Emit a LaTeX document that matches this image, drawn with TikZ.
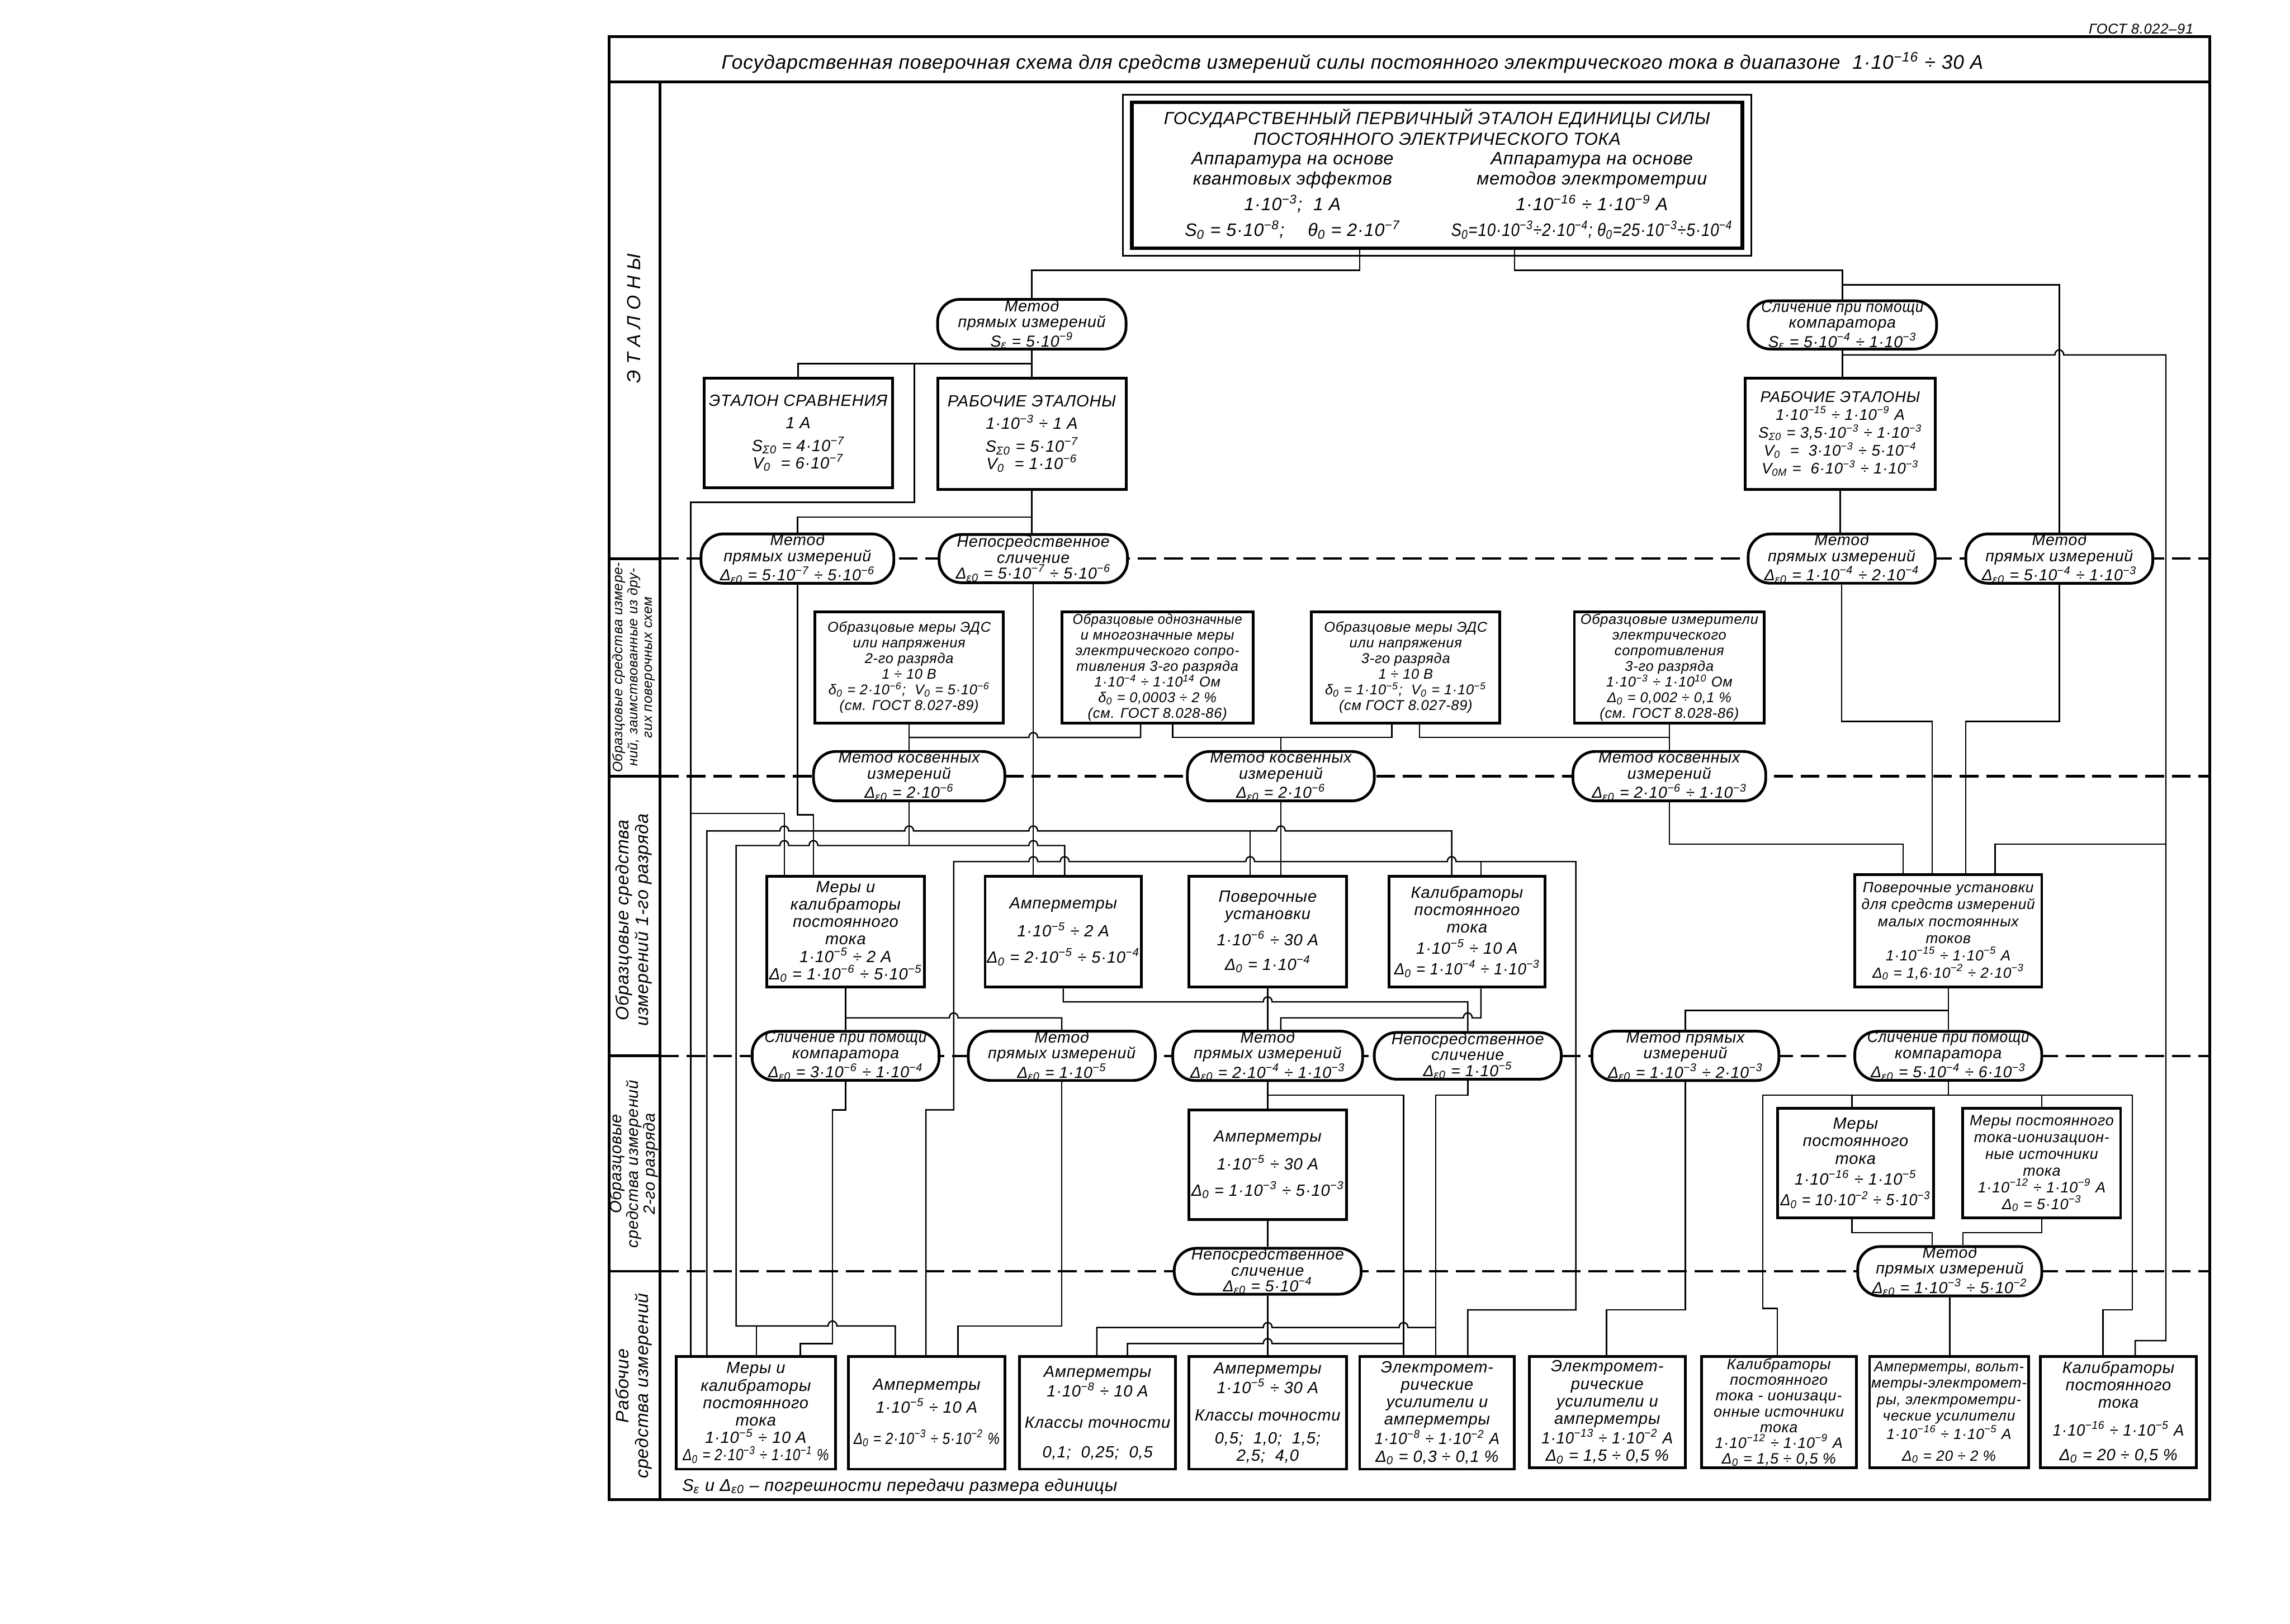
\documentclass[tikz,border=0pt]{standalone}
\usepackage{fontspec}
\setmainfont{Liberation Sans}[LetterSpace=3]
\usetikzlibrary{calc}
\newcommand\tn[1]{·10\textsuperscript{#1}}
\newcommand\sbs[1]{\textsubscript{#1}}
\newcommand\nar[2][0.9]{{\addfontfeature{FakeStretch=#1}#2}}
\newcommand\hop[2]{-- ({#1-3},#2) .. controls ({#1-3},{#2-4.5}) and ({#1+3},{#2-4.5}) .. ({#1+3},#2)}
\newcommand\hopl[2]{-- ({#1+3},#2) .. controls ({#1+3},{#2-4.5}) and ({#1-3},{#2-4.5}) .. ({#1-3},#2)}
\newcommand\fsz[2]{\itshape\fontsize{#1}{#2}\selectfont}
\newcommand\mknode[7][boxst]{\node[#1, minimum width={(#5-#3)*0.03cm}, minimum height={(#6-#4)*0.03cm}] (#2) at ({(#3+#5)/2},{(#4+#6)/2}) {#7};}
\tikzset{
 boxst/.style={draw, line width=1.6pt, fill=white, inner sep=1pt, align=center, font=\fsz{9.5}{10.2}},
 obst/.style={boxst, font=\fsz{8.3}{9.1}},
 ovalst/.style={draw, line width=1.6pt, fill=white, rounded corners=13pt, inner sep=0pt, align=center, font=\fsz{9.3}{9.3}},
 topst/.style={draw, line width=2pt, fill=white},
 conn/.style={line width=0.8pt},
 zone/.style={line width=1.4pt, dash pattern=on 11pt off 4.5pt},
 frm/.style={line width=1.6pt},
 lbl/.style={font=\fsz{10}{11}, align=center, inner sep=0pt, rotate=90},
}
\begin{document}
\begin{tikzpicture}[x=0.03cm, y=-0.03cm]
\useasboundingbox (0,0) rectangle (1568,1112);
% zone lines
\draw[zone] (452,382.5) -- (1513,382.5);
\draw[zone] (452,531.5) -- (1513,531.5);
\draw[zone] (452,723) -- (1513,723);
\draw[zone] (452,870.5) -- (1513,870.5);
% frame
\draw[frm] (417,25) rectangle (1513,1027);
\draw[frm] (417,56) -- (1513,56);
\draw[frm] (452,56) -- (452,1027);
\foreach \yy in {382.5,531.5,723,870.5} \draw[frm] (417,\yy) -- (452,\yy);
\node[font=\fsz{8.3}{9}] (GOST) at (1466,20) {ГОСТ 8.022–91};
\node[font=\fsz{11.5}{12}] (TITLE) at (926,43) {Государственная поверочная схема для средств измерений силы постоянного электрического тока в диапазоне \ 1\tn{−16} ÷ 30 А};
% zone labels
\node[lbl, font=\fsz{11}{12}] (Z1) at (434,218) {Э Т А Л О Н Ы};
\node[lbl, font=\fsz{8}{8.6}] (Z2) at (434,457) {Образцовые средства измере-\\ний, заимствованные из дру-\\гих поверочных схем};
\node[lbl, font=\fsz{10.5}{11.5}] (Z3) at (434,630) {Образцовые средства\\измерений 1-го разряда};
\node[lbl, font=\fsz{9.5}{9.8}] (Z4) at (434,797) {Образцовые\\средства измерений\\2-го разряда};
\node[lbl, font=\fsz{10.5}{11.5}] (Z5) at (434,949) {Рабочие\\средства измерений};
\node[anchor=west, font=\fsz{10}{11}] (FN) at (463,1018) {S\sbs{ε} и Δ\sbs{ε0} – погрешности передачи размера единицы};
% top box
\mknode[topst]{TOP}{775}{70}{1193}{170}{}
\draw[line width=1.2pt] ($(TOP.north west)+(-5,-4)$) rectangle ($(TOP.south east)+(5,4)$);
\node[font=\fsz{10.2}{12}, align=center] (TT) at (984,87) {ГОСУДАРСТВЕННЫЙ ПЕРВИЧНЫЙ ЭТАЛОН ЕДИНИЦЫ СИЛЫ\\ПОСТОЯННОГО ЭЛЕКТРИЧЕСКОГО ТОКА};
\node[font=\fsz{10.5}{12}, align=center] (TL) at (885,134) {Аппаратура на основе\\квантовых эффектов\\[3pt]1\tn{−3}; \ 1 А\\[3pt]S\sbs{0} = 5\tn{−8}; \quad θ\sbs{0} = 2\tn{−7}};
\node[font=\fsz{10.5}{12}, align=center] (TR) at (1090,134) {Аппаратура на основе\\методов электрометрии\\[3pt]1\tn{−16} ÷ 1\tn{−9} А\\[3pt]\nar[0.86]{S\sbs{0}=10\tn{−3}÷2\tn{−4}; θ\sbs{0}=25\tn{−3}÷5\tn{−4}}};
% etalons
\mknode[ovalst]{M1}{642}{205}{771}{239}{Метод\\прямых измерений\\S\sbs{ε} = 5\tn{−9}}
\mknode[ovalst]{S1}{1197}{206}{1326}{239}{\nar[0.92]{Сличение при помощи}\\компаратора\\S\sbs{ε} = 5\tn{−4} ÷ 1\tn{−3}}
\mknode{ES}{482}{259}{611}{334}{ЭТАЛОН СРАВНЕНИЯ\\[3pt]1 А\\[3pt]S\sbs{Σ0} = 4\tn{−7}\\V\sbs{0} \ = 6\tn{−7}}
\mknode{RE1}{642}{259}{771}{335}{РАБОЧИЕ ЭТАЛОНЫ\\[3pt]1\tn{−3} ÷ 1 А\\[3pt]S\sbs{Σ0} = 5\tn{−7}\\V\sbs{0} \ = 1\tn{−6}}
\mknode[boxst, font=\fsz{9}{10.5}]{RE2}{1195}{259}{1325}{335}{РАБОЧИЕ ЭТАЛОНЫ\\1\tn{−15} ÷ 1\tn{−9} А\\S\sbs{Σ0} = 3,5\tn{−3} ÷ 1\tn{−3}\\V\sbs{0} \ = \ 3\tn{−3} ÷ 5\tn{−4}\\V\sbs{0М} = \ 6\tn{−3} ÷ 1\tn{−3}}
\mknode[ovalst]{M2}{480}{366}{612}{399}{Метод\\прямых измерений\\Δ\sbs{ε0} = 5\tn{−7} ÷ 5\tn{−6}}
\mknode[ovalst]{N1}{643}{366}{772}{399}{Непосредственное\\сличение\\Δ\sbs{ε0} = 5\tn{−7} ÷ 5\tn{−6}}
\mknode[ovalst]{M3}{1197}{366}{1325}{399}{Метод\\прямых измерений\\Δ\sbs{ε0} = 1\tn{−4} ÷ 2\tn{−4}}
\mknode[ovalst]{M4}{1346}{366}{1474}{399}{Метод\\прямых измерений\\Δ\sbs{ε0} = 5\tn{−4} ÷ 1\tn{−3}}
% borrowed
\mknode[obst]{OB1}{558}{419}{687}{495}{Образцовые меры ЭДС\\или напряжения\\2-го разряда\\1 ÷ 10 В\\δ\sbs{0} = 2\tn{−6}; \ V\sbs{0} = 5\tn{−6}\\(см. ГОСТ 8.027-89)}
\mknode[obst]{OB2}{727}{419}{858}{495}{\nar[0.93]{Образцовые однозначные}\\и многозначные меры\\электрического сопро-\\тивления 3-го разряда\\1\tn{−4} ÷ 1\tn{14} Ом\\δ\sbs{0} = 0,0003 ÷ 2 \%\\(см. ГОСТ 8.028-86)}
\mknode[obst]{OB3}{898}{419}{1027}{495}{Образцовые меры ЭДС\\или напряжения\\3-го разряда\\1 ÷ 10 В\\δ\sbs{0} = 1\tn{−5}; \ V\sbs{0} = 1\tn{−5}\\(см ГОСТ 8.027-89)}
\mknode[obst]{OB4}{1078}{419}{1208}{495}{Образцовые измерители\\электрического\\сопротивления\\3-го разряда\\1\tn{−3} ÷ 1\tn{10} Ом\\Δ\sbs{0} = 0,002 ÷ 0,1 \%\\(см. ГОСТ 8.028-86)}
\mknode[ovalst]{MK1}{557}{515}{688}{548}{Метод косвенных\\измерений\\Δ\sbs{ε0} = 2\tn{−6}}
\mknode[ovalst]{MK2}{813}{515}{941}{548}{Метод косвенных\\измерений\\Δ\sbs{ε0} = 2\tn{−6}}
\mknode[ovalst]{MK3}{1077}{515}{1209}{548}{Метод косвенных\\измерений\\Δ\sbs{ε0} = 2\tn{−6} ÷ 1\tn{−3}}
% first rank
\mknode{MKal}{525}{600}{633}{676}{Меры и\\калибраторы\\постоянного\\тока\\1\tn{−5} ÷ 2 А\\Δ\sbs{0} = 1\tn{−6} ÷ 5\tn{−5}}
\mknode{A1}{675}{600}{781}{676}{Амперметры\\[5pt]1\tn{−5} ÷ 2 А\\[5pt]Δ\sbs{0} = 2\tn{−5} ÷ 5\tn{−4}}
\mknode{PU}{814}{600}{922}{676}{Поверочные\\установки\\[4pt]1\tn{−6} ÷ 30 А\\[4pt]Δ\sbs{0} = 1\tn{−4}}
\mknode{K1}{951}{600}{1058}{676}{Калибраторы\\постоянного\\тока\\[2pt]1\tn{−5} ÷ 10 А\\[2pt]\nar[0.95]{Δ\sbs{0} = 1\tn{−4} ÷ 1\tn{−3}}}
\mknode[boxst, font=\fsz{8.6}{10}]{P5}{1270}{599}{1398}{676}{Поверочные установки\\для средств измерений\\малых постоянных\\токов\\1\tn{−15} ÷ 1\tn{−5} А\\Δ\sbs{0} = 1,6\tn{−2} ÷ 2\tn{−3}}
\mknode[ovalst]{SK}{515}{707}{643}{739}{\nar[0.92]{Сличение при помощи}\\компаратора\\Δ\sbs{ε0} = 3\tn{−6} ÷ 1\tn{−4}}
\mknode[ovalst]{MP1}{663}{707}{791}{739}{Метод\\прямых измерений\\Δ\sbs{ε0} = 1\tn{−5}}
\mknode[ovalst]{MP2}{803}{707}{933}{739}{Метод\\прямых измерений\\Δ\sbs{ε0} = 2\tn{−4} ÷ 1\tn{−3}}
\mknode[ovalst]{NS}{941}{707}{1069}{739}{Непосредственное\\сличение\\Δ\sbs{ε0} = 1\tn{−5}}
\mknode[ovalst]{MPI}{1090}{707}{1218}{739}{Метод прямых\\измерений\\Δ\sbs{ε0} = 1\tn{−3} ÷ 2\tn{−3}}
\mknode[ovalst]{SC2}{1270}{707}{1398}{739}{\nar[0.92]{Сличение при помощи}\\компаратора\\Δ\sbs{ε0} = 5\tn{−4} ÷ 6\tn{−3}}
% second rank
\mknode{A2}{814}{760}{922}{835}{Амперметры\\[5pt]1\tn{−5} ÷ 30 А\\[5pt]Δ\sbs{0} = 1\tn{−3} ÷ 5\tn{−3}}
\mknode{MPT}{1217}{759}{1324}{834}{Меры\\постоянного\\тока\\[2pt]1\tn{−16} ÷ 1\tn{−5}\\[2pt]\nar[0.92]{Δ\sbs{0} = 10\tn{−2} ÷ 5\tn{−3}}}
\mknode[boxst, font=\fsz{8.8}{9.8}]{MPI2}{1344}{759}{1452}{834}{Меры постоянного\\тока-ионизацион-\\ные источники\\тока\\1\tn{−12} ÷ 1\tn{−9} А\\Δ\sbs{0} = 5\tn{−3}}
\mknode[ovalst]{N2}{804}{855}{932}{886}{Непосредственное\\сличение\\Δ\sbs{ε0} = 5\tn{−4}}
\mknode[ovalst]{M5}{1272}{855}{1398}{886}{Метод\\прямых измерений\\Δ\sbs{ε0} = 1\tn{−3} ÷ 5\tn{−2}}
% working
\mknode{B1}{463}{929}{572}{1006}{Меры и\\калибраторы\\постоянного\\тока\\1\tn{−5} ÷ 10 А\\\nar[0.84]{Δ\sbs{0} = 2\tn{−3} ÷ 1\tn{−1} \%}}
\mknode{B2}{581}{929}{688}{1006}{Амперметры\\[2pt]1\tn{−5} ÷ 10 А\\[8pt]\nar[0.84]{Δ\sbs{0} = 2\tn{−3} ÷ 5\tn{−2} \%}}
\mknode{B3}{698}{929}{805}{1006}{Амперметры\\1\tn{−8} ÷ 10 А\\[8pt]Классы точности\\[7pt]0,1; \ 0,25; \ 0,5}
\mknode{B4}{814}{929}{922}{1006}{Амперметры\\1\tn{−5} ÷ 30 А\\[6pt]Классы точности\\[3pt]0,5; \ 1,0; \ 1,5;\\2,5; \ 4,0}
\mknode{B5}{931}{929}{1037}{1006}{Электромет-\\рические\\усилители и\\амперметры\\\nar[0.95]{1\tn{−8} ÷ 1\tn{−2} А}\\Δ\sbs{0} = 0,3 ÷ 0,1 \%}
\mknode{B6}{1047}{929}{1154}{1005}{Электромет-\\рические\\усилители и\\амперметры\\\nar[0.95]{1\tn{−13} ÷ 1\tn{−2} А}\\Δ\sbs{0} = 1,5 ÷ 0,5 \%}
\mknode[boxst, font=\fsz{8.8}{9.2}]{B7}{1165}{929}{1271}{1005}{Калибраторы\\постоянного\\тока - ионизаци-\\онные источники\\тока\\1\tn{−12} ÷ 1\tn{−9} А\\Δ\sbs{0} = 1,5 ÷ 0,5 \%}
\mknode[boxst, font=\fsz{8.6}{9.6}]{B8}{1281}{929}{1388}{1005}{\nar[0.95]{Амперметры, вольт-}\\метры-электромет-\\ры, электрометри-\\ческие усилители\\1\tn{−16} ÷ 1\tn{−5} А\\[3pt]Δ\sbs{0} = 20 ÷ 2 \%}
\mknode{B9}{1397}{929}{1504}{1005}{Калибраторы\\постоянного\\тока\\[6pt]\nar[0.95]{1\tn{−16} ÷ 1\tn{−5} А}\\[4pt]Δ\sbs{0} = 20 ÷ 0,5 \%}
% connectors
\begin{scope}[conn]
\draw (931,0 |- TOP.south) -- (931,185) -| (M1.north);
\draw (1037,0 |- TOP.south) -- (1037,185) -| (S1.north);
\draw (S1.north |- 0,195) -| (M4.north);
\draw (S1.south) -- (S1.south |- RE2.north);
\draw (S1.south |- 0,243) \hop{1410}{243} -- (1483,243) -- (1483,918) -- (1462,918) -- (1462,0 |- B9.north);
\draw (1483,578) -- (1366,578) -- (1366,0 |- P5.north);
\draw (M1.south) -- (M1.south |- RE1.north);
\draw (M1.south |- 0,249) -| (ES.north);
\draw (M1.south |- 0,249) -- (626,249) -- (626,344) -- (473,344) -- (473,0 |- B1.north);
\draw (473,557) -- (537,557) -- (537,0 |- MKal.north);
\draw (RE1.south) -- (RE1.south |- N1.north);
\draw (RE1.south |- 0,354) -| (M2.north);
\draw (RE2.south) -- (RE2.south |- M3.north);
\draw (M3.south) |- (1323,494) -- (1323,0 |- P5.north);
\draw (M4.south) |- (1346,494) -- (1346,0 |- P5.north);
\draw (M2.south) -- (M2.south |- 0,558) -- (557,558) -- (557,0 |- MKal.north);
\draw (484,0 |- B1.north) -- (484,569) \hop{537}{569} -- (557,569) \hop{622.5}{569} \hop{707.5}{569} -- (856,569) \hop{877}{569} -- (994,569) -- (994,0 |- K1.north);
\draw (856,569) -- (856,0 |- PU.north);
\draw (613,0 |- B2.north) -- (613,908) \hopl{570}{908} -- (504,908) -- (504,579) \hop{537}{579} \hop{557}{579} -- (622.5,579) \hop{707.5}{579} -- (729,579) -- (729,0 |- A1.north);
\draw (518,908) -- (518,0 |- B1.north);
\draw (MK1.south) -- (MK1.south |- 0,579);
\draw (OB1.south) -- (OB1.south |- MK1.north);
\draw (781,0 |- OB2.south) -- (781,505) \hopl{707.5}{505} -- (622.5,505);
\draw (803,0 |- OB2.south) -- (803,505) -- (953,505) -- (953,0 |- OB3.south);
\draw (MK2.north) -- (MK2.north |- 0,505);
\draw (972,0 |- OB3.south) -- (972,505) -- (1143,505);
\draw (OB4.south) -- (OB4.south |- MK3.north);
\draw (N1.south) -- (N1.south |- A1.north);
\draw (MK2.south) -- (MK2.south |- PU.north);
\draw (634,0 |- B2.north) -- (634,760) -- (653,760) -- (653,590) \hop{707.5}{590} \hop{729}{590} \hop{856}{590} -- (877,590) \hop{994}{590} -- (1079,590) -- (1079,897) -- (1005,897) -- (1005,0 |- B5.north);
\draw (1014,590) -- (1014,0 |- K1.north);
\draw (MK3.south) |- (1303,578) -- (1303,0 |- P5.north);
\draw (MKal.south) -- (MKal.south |- SK.north);
\draw (579,697) \hop{653}{697} -- (727,697) -- (727,0 |- MP1.north);
\draw (728,0 |- A1.south) -- (728,686) \hop{868}{686} -- (1005,686) -- (1005,0 |- NS.north);
\draw (PU.south) -- (PU.south |- MP2.north);
\draw (1014,0 |- K1.south) -- (1014,697) \hopl{1005}{697} -- (877,697) -- (877,0 |- MP2.north);
\draw (P5.south) -- (P5.south |- SC2.north);
\draw (P5.south |- 0,692) -| (MPI.north);
\draw (SK.south) -- (579,760) -- (570,760) -- (570,920) -- (548,920) -- (548,0 |- B1.north);
\draw (MP1.south) -- (727,908) -- (656,908) -- (656,0 |- B2.north);
\draw (MP2.south) -- (MP2.south |- A2.north);
\draw (868,750) -- (961,750) -- (961,0 |- B5.north);
\draw (961,920) \hopl{868}{920} -- (772,920) -- (772,0 |- B3.north);
\draw (NS.south) -- (1005,750) -- (983,750) -- (983,0 |- B5.north);
\draw (983,909) \hopl{961}{909} \hopl{868}{909} -- (751,909) -- (751,0 |- B3.north);
\draw (A2.south) -- (A2.south |- N2.north);
\draw (N2.south) -- (N2.south |- B4.north);
\draw (MPI.south) -- (1154,897) -- (1100,897) -- (1100,0 |- B6.north);
\draw (SC2.south) -- (SC2.south |- 0,750);
\draw (1217,0 |- B7.north) -- (1217,896) -- (1207,896) -- (1207,750) -- (1460,750) -- (1460,897) -- (1440,897) -- (1440,0 |- B9.north);
\draw (1268,750) -- (1268,0 |- MPT.north);
\draw (1398,750) -- (1398,0 |- MPI2.north);
\draw (1268,0 |- MPT.south) -- (1268,844) -- (1323,844) -- (1323,0 |- M5.north);
\draw (1398,0 |- MPI2.south) -- (1398,844) -- (1344,844) -- (1344,0 |- M5.north);
\draw (M5.south) -- (M5.south |- B8.north);
\end{scope}
\end{tikzpicture}
\end{document}
